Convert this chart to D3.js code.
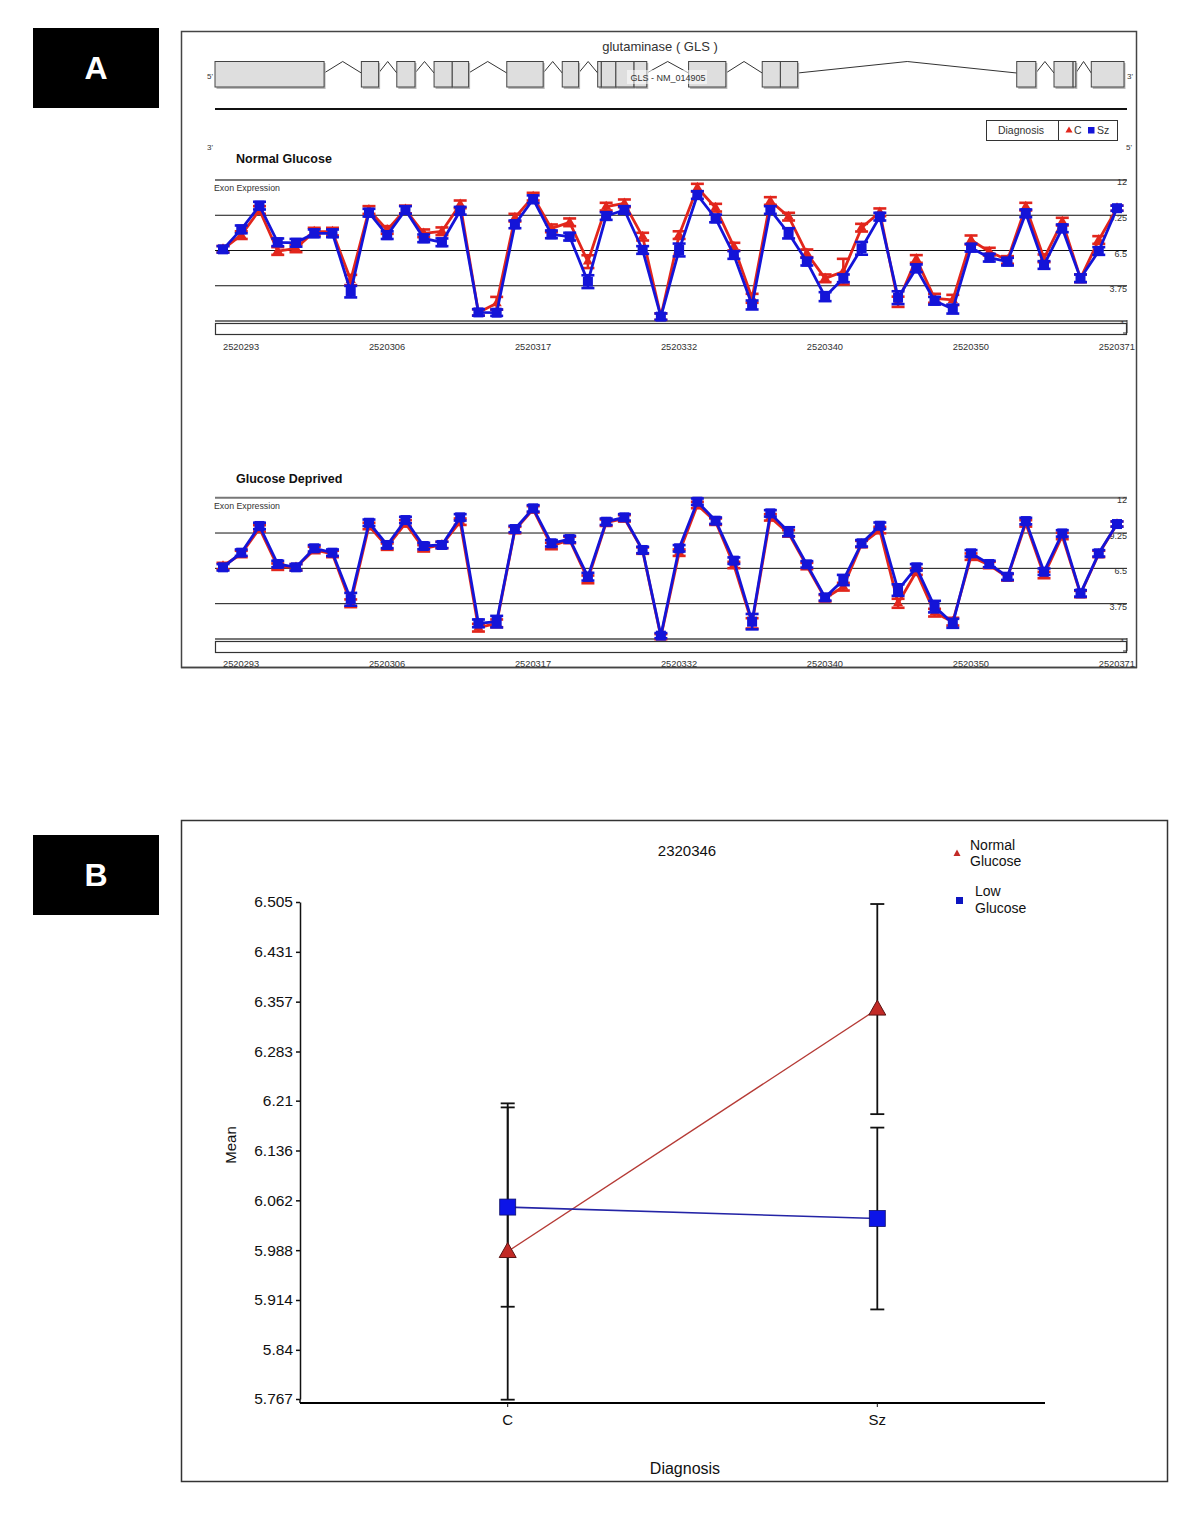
<!DOCTYPE html>
<html><head><meta charset="utf-8">
<script src="https://cdn.jsdelivr.net/npm/d3@7"></script>
<style>body{margin:0;background:#fff}svg{display:block}</style>
</head><body><svg id="c" width="1200" height="1524"></svg>
<script>
// ---------- DATA ----------
const probeCount = 50;
const probeTickIdx = [0, 8, 16, 24, 32, 40, 48];
const probeTickLabels = ["2520293","2520306","2520317","2520332","2520340","2520350","2520371"];
const exprTicks = [12, 9.25, 6.5, 3.75, 1];
const exprTickLabels = ["12","9.25","6.5","3.75","1"];

const normalC  = [6.6,7.7,9.66,6.46,6.67,7.97,7.97,4.2,9.66,8.1,9.7,7.84,8.0,10.1,1.67,2.38,9.06,10.7,8.23,8.7,5.63,9.92,10.18,7.58,1.34,7.7,11.4,9.84,6.8,2.77,10.36,9.14,6.28,4.33,4.85,8.28,9.48,2.5,5.84,2.77,2.64,7.32,6.41,5.76,9.92,5.89,8.75,4.33,7.32,9.8];
const normalSz = [6.59,8.15,10.0,7.14,7.1,7.84,7.84,3.29,9.45,7.7,9.66,7.45,7.14,9.6,1.67,1.65,8.54,10.5,7.76,7.58,4.07,9.19,9.66,6.54,1.34,6.54,10.83,9.0,6.15,2.25,9.66,7.84,5.63,2.9,4.33,6.67,9.14,2.82,5.11,2.58,1.93,6.72,5.94,5.63,9.4,5.37,8.23,4.33,6.46,9.8];
const normalCErr  = [0.25,0.3,0.3,0.3,0.3,0.3,0.3,0.4,0.3,0.3,0.3,0.3,0.3,0.3,0.25,0.5,0.3,0.3,0.3,0.3,0.5,0.3,0.3,0.3,0.25,0.3,0.3,0.3,0.3,0.35,0.3,0.3,0.3,0.3,1.0,0.3,0.3,0.4,0.3,0.35,0.4,0.35,0.3,0.3,0.3,0.3,0.3,0.3,0.3,0.2];
const normalSzErr = [0.25,0.3,0.3,0.3,0.3,0.3,0.3,0.45,0.3,0.3,0.3,0.3,0.3,0.3,0.25,0.25,0.3,0.3,0.3,0.3,0.5,0.3,0.3,0.3,0.25,0.5,0.3,0.3,0.3,0.35,0.3,0.4,0.3,0.35,0.3,0.5,0.3,0.5,0.3,0.3,0.35,0.3,0.3,0.3,0.3,0.3,0.3,0.3,0.3,0.2];

const deprivedC  = [6.68,7.62,9.61,6.63,6.58,7.93,7.62,3.78,9.8,8.19,10.0,8.06,8.32,10.13,1.88,2.22,9.48,11.09,8.24,8.71,5.64,10.05,10.39,7.88,1.18,7.72,11.43,10.13,6.76,2.22,10.47,9.22,6.68,4.17,5.07,8.39,9.48,3.78,6.24,3.05,2.35,7.41,6.76,5.8,10.0,5.98,9.02,4.5,7.62,9.95];
const deprivedSz = [6.58,7.72,9.8,6.84,6.58,8.06,7.72,4.09,10.05,8.32,10.26,8.24,8.32,10.47,2.22,2.35,9.56,11.17,8.45,8.78,5.85,10.13,10.47,7.93,1.26,8.06,11.69,10.21,7.1,2.35,10.78,9.35,6.81,4.24,5.59,8.45,9.82,4.81,6.58,3.52,2.22,7.67,6.84,5.85,10.18,6.24,9.22,4.55,7.67,9.95];
const deprivedCErr  = [0.25,0.25,0.25,0.25,0.25,0.25,0.25,0.3,0.25,0.25,0.25,0.25,0.25,0.25,0.3,0.3,0.25,0.25,0.25,0.25,0.3,0.25,0.25,0.25,0.2,0.25,0.25,0.25,0.25,0.4,0.25,0.25,0.25,0.25,0.3,0.25,0.25,0.35,0.25,0.3,0.3,0.25,0.25,0.25,0.25,0.25,0.25,0.25,0.25,0.2];
const deprivedSzErr = [0.25,0.25,0.25,0.25,0.25,0.25,0.25,0.5,0.25,0.25,0.25,0.25,0.25,0.25,0.3,0.45,0.25,0.25,0.25,0.25,0.3,0.25,0.25,0.25,0.2,0.25,0.25,0.25,0.25,0.6,0.25,0.35,0.25,0.25,0.4,0.25,0.25,0.45,0.25,0.45,0.35,0.25,0.25,0.25,0.25,0.25,0.25,0.25,0.25,0.2];

// gene model (relative gene coordinate 0..1000)
const exonStart = [0,161,200,241,261,321,382,421,425,441,461,521,602,622,882,923,944,964];
const exonEnd   = [120,180,220,261,279,361,400,425,441,461,475,562,622,641,903,944,947,1000];

// panel B
const diagCats = ["C","Sz"];
const meanNormal = [5.986, 6.346];
const errNormal  = [0.22, 0.156];
const meanLow    = [6.052, 6.035];
const errLow     = [0.148, 0.135];
const meanTicks  = [5.767,5.84,5.914,5.988,6.062,6.136,6.21,6.283,6.357,6.431,6.505];
const meanTickLabels = ["5.767","5.84","5.914","5.988","6.062","6.136","6.21","6.283","6.357","6.431","6.505"];

// ---------- DRAW ----------
const svg = d3.select("#c");
const RED = "#e2261c", BLUE = "#1414d8";
const SANS = "'Liberation Sans', Arial, sans-serif";

// panel letters
[["A",28],["B",835]].forEach(([t,y])=>{
  svg.append("rect").attr("x",33).attr("y",y).attr("width",126).attr("height",80).attr("fill","#000");
  svg.append("text").attr("x",96).attr("y",y+51).attr("text-anchor","middle").attr("fill","#fff")
    .attr("font-family",SANS).attr("font-weight","bold").attr("font-size",32).text(t);
});

// panel A frame
svg.append("rect").attr("x",181.5).attr("y",31.5).attr("width",955).attr("height",636)
  .attr("fill","none").attr("stroke","#444").attr("stroke-width",1.5);

// gene model
const gx = d3.scaleLinear().domain([0,1000]).range([215,1124]);
const gA = svg.append("g");
gA.append("text").attr("x",660).attr("y",51).attr("text-anchor","middle").attr("font-family",SANS)
  .attr("font-size",13).attr("fill","#333").text("glutaminase ( GLS )");
gA.append("text").attr("x",207).attr("y",79).attr("font-family",SANS).attr("font-size",8).attr("fill","#333").text("5'");
gA.append("text").attr("x",1127).attr("y",79).attr("font-family",SANS).attr("font-size",8).attr("fill","#333").text("3'");
// introns
for (let i=0;i<exonStart.length-1;i++){
  if (exonStart[i+1] > exonEnd[i]) {
    const a = gx(exonEnd[i]), b = gx(exonStart[i+1]);
    gA.append("polyline").attr("points",`${a},73 ${(a+b)/2},61.5 ${b},73`)
      .attr("fill","none").attr("stroke","#333").attr("stroke-width",1);
  }
}
// exon shadows then exons
exonStart.forEach((s,i)=>{
  gA.append("rect").attr("x",gx(s)+1.5).attr("y",63).attr("width",gx(exonEnd[i])-gx(s)).attr("height",26)
    .attr("fill","#bbb");
});
exonStart.forEach((s,i)=>{
  gA.append("rect").attr("x",gx(s)).attr("y",61.5).attr("width",gx(exonEnd[i])-gx(s)).attr("height",25.5)
    .attr("fill","#dedede").attr("stroke","#444").attr("stroke-width",1);
});
gA.append("rect").attr("x",627).attr("y",70).attr("width",80).attr("height",14).attr("fill","#fff").attr("opacity",0.55);
gA.append("text").attr("x",668).attr("y",80.5).attr("text-anchor","middle").attr("font-family",SANS)
  .attr("font-size",9).attr("fill","#333").text("GLS - NM_014905");
gA.append("line").attr("x1",215).attr("x2",1127).attr("y1",109).attr("y2",109).attr("stroke","#111").attr("stroke-width",2);

// legend (diagnosis)
gA.append("rect").attr("x",986.5).attr("y",120.5).attr("width",131).attr("height",20).attr("fill","#fff").attr("stroke","#333");
gA.append("line").attr("x1",1058.5).attr("x2",1058.5).attr("y1",120.5).attr("y2",140.5).attr("stroke","#333");
gA.append("text").attr("x",1021).attr("y",134).attr("text-anchor","middle").attr("font-family",SANS).attr("font-size",10.5).attr("fill","#333").text("Diagnosis");
gA.append("path").attr("d",d3.symbol(d3.symbolTriangle,22)()).attr("transform","translate(1069,130.5)").attr("fill",RED);
gA.append("text").attr("x",1074).attr("y",134).attr("font-family",SANS).attr("font-size",10.5).attr("fill","#333").text("C");
gA.append("rect").attr("x",1088).attr("y",127).attr("width",6.5).attr("height",6.5).attr("fill",BLUE);
gA.append("text").attr("x",1097).attr("y",134).attr("font-family",SANS).attr("font-size",10.5).attr("fill","#333").text("Sz");
gA.append("text").attr("x",207).attr("y",150).attr("font-family",SANS).attr("font-size",8).attr("fill","#333").text("3'");
gA.append("text").attr("x",1126).attr("y",150).attr("font-family",SANS).attr("font-size",8).attr("fill","#333").text("5'");

const px = d3.scaleLinear().domain([0, probeCount-1]).range([223, 1117]);
const idx = d3.range(probeCount);

function drawPanel(cfg){
  const g = svg.append("g");
  const y = d3.scaleLinear().domain([1,12]).range([cfg.y1, cfg.y12]);
  g.append("text").attr("x",236).attr("y",cfg.titleY).attr("font-family",SANS).attr("font-weight","bold")
    .attr("font-size",12.5).attr("fill","#111").text(cfg.title);
  g.append("text").attr("x",214).attr("y",y(12)+11).attr("font-family",SANS).attr("font-size",8.8).attr("fill","#333").text("Exon Expression");
  exprTicks.forEach((t,i)=>{
    const edge = (t===12||t===1);
    g.append("line").attr("x1",215).attr("x2",1127).attr("y1",y(t)).attr("y2",y(t))
      .attr("stroke",edge?"#777":"#111").attr("stroke-width",edge?2:1);
    g.append("text").attr("x",t===1?1125:1127).attr("y",y(t)+(t===12?5:6)).attr("text-anchor","end")
      .attr("font-family",SANS).attr("font-size",9).attr("fill","#333").text(exprTickLabels[i]);
  });
  g.append("rect").attr("x",215.5).attr("y",y(1)+2.5).attr("width",911).attr("height",11)
    .attr("fill","#fff").attr("stroke","#333").attr("stroke-width",1.2);
  g.append("polyline").attr("points",`1127,${y(1)-1} 1127,${y(1)+12} 1123,${y(1)+12}`).attr("fill","none").attr("stroke","#333");
  probeTickIdx.forEach((k,i)=>{
    g.append("text").attr("x",px(k)).attr("y",cfg.labY).attr("font-family",SANS).attr("font-size",9.3)
      .attr("fill","#333").text(probeTickLabels[i]);
  });
  const series = [
    {v:cfg.c, e:cfg.ce, col:RED, tri:true},
    {v:cfg.sz, e:cfg.sze, col:BLUE, tri:false}
  ];
  series.forEach(s=>{
    const line = d3.line().x(i=>px(i)).y(i=>y(s.v[i]));
    g.append("path").attr("d",line(idx)).attr("fill","none").attr("stroke",s.col).attr("stroke-width",2.8).attr("stroke-linejoin","round");
    idx.forEach(i=>{
      const cx = px(i), lo = y(s.v[i]-s.e[i]), hi = y(s.v[i]+s.e[i]);
      g.append("line").attr("x1",cx).attr("x2",cx).attr("y1",lo).attr("y2",hi).attr("stroke",s.col).attr("stroke-width",2.5);
      [lo,hi].forEach(yy=>g.append("line").attr("x1",cx-6.5).attr("x2",cx+6.5).attr("y1",yy).attr("y2",yy)
        .attr("stroke",s.col).attr("stroke-width",2.6));
      if (s.tri) g.append("path").attr("d",d3.symbol(d3.symbolTriangle,45)()).attr("transform",`translate(${cx},${y(s.v[i])})`).attr("fill",s.col);
      else g.append("rect").attr("x",cx-5).attr("y",y(s.v[i])-5).attr("width",10).attr("height",10).attr("fill",s.col);
    });
  });
}
drawPanel({title:"Normal Glucose", titleY:163, y12:180, y1:321, labY:350, c:normalC, sz:normalSz, ce:normalCErr, sze:normalSzErr});
drawPanel({title:"Glucose Deprived", titleY:483, y12:497.7, y1:639, labY:667, c:deprivedC, sz:deprivedSz, ce:deprivedCErr, sze:deprivedSzErr});
// redraw frame bottom over clipped labels
svg.append("line").attr("x1",181).attr("x2",1137).attr("y1",667.5).attr("y2",667.5).attr("stroke","#444").attr("stroke-width",1.5);

// ---------- PANEL B ----------
svg.append("rect").attr("x",181.5).attr("y",820.5).attr("width",986).attr("height",661)
  .attr("fill","none").attr("stroke","#333").attr("stroke-width",1.5);
const by = d3.scaleLinear().domain([5.767, 6.505]).range([1399, 902]);
const bx = d3.scalePoint().domain(diagCats).range([507.7, 877.3]);
const yAx = svg.append("g").attr("transform","translate(300,0)")
  .call(d3.axisLeft(by).tickValues(meanTicks).tickFormat((d,i)=>meanTickLabels[i]).tickSize(4).tickSizeOuter(0));
yAx.select(".domain").attr("stroke","#111").attr("stroke-width",1.5);
yAx.selectAll(".tick line").attr("stroke","#111").attr("stroke-width",1.5);
yAx.selectAll(".tick text").attr("font-family",SANS).attr("font-size",15.5).attr("fill","#111").attr("x",-7);
yAx.append("line").attr("x1",0).attr("x2",0).attr("y1",1399).attr("y2",1403).attr("stroke","#111").attr("stroke-width",1.5);
svg.append("line").attr("x1",300).attr("x2",1045).attr("y1",1403).attr("y2",1403).attr("stroke","#000").attr("stroke-width",2.2);
diagCats.forEach(c=>{
  svg.append("line").attr("x1",bx(c)).attr("x2",bx(c)).attr("y1",1403).attr("y2",1407).attr("stroke","#111");
  svg.append("text").attr("x",bx(c)).attr("y",1425).attr("text-anchor","middle").attr("font-family",SANS).attr("font-size",15).attr("fill","#111").text(c);
});
svg.append("text").attr("transform","translate(236,1145) rotate(-90)").attr("text-anchor","middle")
  .attr("font-family",SANS).attr("font-size",15).attr("fill","#111").text("Mean");
svg.append("text").attr("x",685).attr("y",1474).attr("text-anchor","middle").attr("font-family",SANS).attr("font-size",16).attr("fill","#111").text("Diagnosis");
svg.append("text").attr("x",687).attr("y",856).attr("text-anchor","middle").attr("font-family",SANS).attr("font-size",15).attr("fill","#111").text("2320346");

// error bars
[[meanNormal,errNormal],[meanLow,errLow]].forEach(([m,e])=>{
  diagCats.forEach((c,i)=>{
    const x = bx(c);
    svg.append("line").attr("x1",x).attr("x2",x).attr("y1",by(m[i]-e[i])).attr("y2",by(m[i]+e[i])).attr("stroke","#111").attr("stroke-width",1.8);
    [m[i]-e[i], m[i]+e[i]].forEach(v=>svg.append("line").attr("x1",x-7).attr("x2",x+7).attr("y1",by(v)).attr("y2",by(v)).attr("stroke","#111").attr("stroke-width",1.8));
  });
});
const bline = d3.line().x((d,i)=>bx(diagCats[i])).y(d=>by(d));
svg.append("path").attr("d",bline(meanNormal)).attr("fill","none").attr("stroke","#b53a35").attr("stroke-width",1.3);
svg.append("path").attr("d",bline(meanLow)).attr("fill","none").attr("stroke","#2424a6").attr("stroke-width",1.6);
meanLow.forEach((v,i)=>svg.append("rect").attr("x",bx(diagCats[i])-8).attr("y",by(v)-8).attr("width",16).attr("height",16)
  .attr("fill","#0c14e8").attr("stroke","#10106a").attr("stroke-width",0.8));
meanNormal.forEach((v,i)=>svg.append("path").attr("d","M0,-9 L8.5,6 L-8.5,6 Z").attr("transform",`translate(${bx(diagCats[i])},${by(v)})`)
  .attr("fill","#c22a26").attr("stroke","#5a1414").attr("stroke-width",1));

// legend B
svg.append("path").attr("d","M0,-3.5 L3.5,3 L-3.5,3 Z").attr("transform","translate(957,853)").attr("fill","#c22a26");
svg.append("text").attr("x",970).attr("y",850).attr("font-family",SANS).attr("font-size",14).attr("fill","#111").text("Normal");
svg.append("text").attr("x",970).attr("y",866).attr("font-family",SANS).attr("font-size",14).attr("fill","#111").text("Glucose");
svg.append("rect").attr("x",956).attr("y",897).attr("width",7).attr("height",7).attr("fill","#0c14c0");
svg.append("text").attr("x",975).attr("y",896).attr("font-family",SANS).attr("font-size",14).attr("fill","#111").text("Low");
svg.append("text").attr("x",975).attr("y",913).attr("font-family",SANS).attr("font-size",14).attr("fill","#111").text("Glucose");
</script></body></html>
